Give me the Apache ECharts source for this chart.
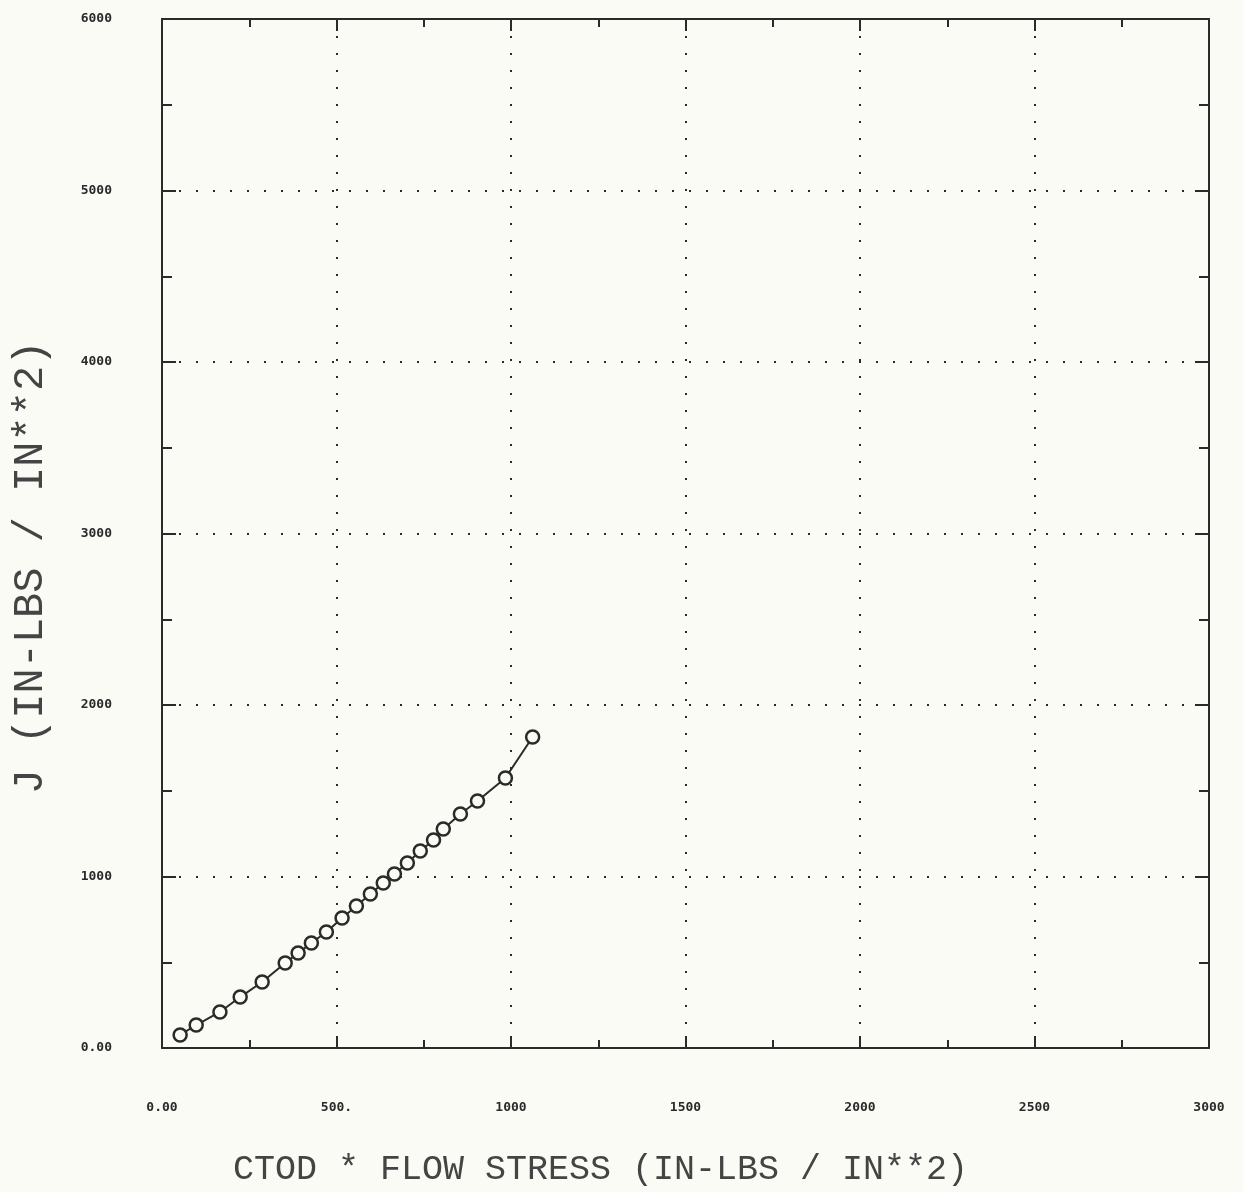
<!DOCTYPE html>
<html>
<head>
<meta charset="utf-8">
<script src="https://cdn.jsdelivr.net/npm/echarts@6/dist/echarts.min.js"></script>
<style>
html,body{margin:0;padding:0;background:#fbfbf6;}
#chart{width:1243px;height:1192px;}
</style>
</head>
<body>
<div id="chart"></div>
<script>
const xValues = [52, 98, 166, 224, 287, 353, 390, 428, 471, 516, 557, 597, 634, 666, 703, 740, 778, 806, 855, 904, 984, 1062];
const yValues = [76, 134, 210, 297, 385, 496, 554, 612, 676, 758, 828, 898, 962, 1015, 1079, 1149, 1213, 1277, 1364, 1440, 1574, 1813];
const xTickLabels = {0: '0.00', 500: '500.', 1000: '1000', 1500: '1500', 2000: '2000', 2500: '2500', 3000: '3000'};
const yTickLabels = {0: '0.00', 1000: '1000', 2000: '2000', 3000: '3000', 4000: '4000', 5000: '5000', 6000: '6000'};
const xTitle = 'CTOD * FLOW STRESS (IN-LBS / IN**2)';
const yTitle = 'J (IN-LBS / IN**2)';

const ink = '#2a2a2a';
const points = xValues.map((x, i) => [x, yValues[i]]);
const chart = echarts.init(document.getElementById('chart'));

const gridDots = {show: true, lineStyle: {color: ink, width: 2, type: [2, 15]}};
const tickFont = {fontFamily: 'DejaVu Sans Mono', fontSize: 13, fontWeight: 'bold', color: ink};
const line = {show: true, onZero: false, lineStyle: {color: ink, width: 2}};

chart.setOption({
  backgroundColor: '#fbfbf6',
  animation: false,
  grid: {left: 162, right: 34, top: 19, bottom: 144, containLabel: false, outerBoundsMode: 'none'},
  xAxis: [{
    type: 'value', min: 0, max: 3000, interval: 500, position: 'bottom',
    axisLine: line,
    axisTick: {show: true, inside: true, length: 12, lineStyle: {color: ink, width: 2}},
    minorTick: {show: true, splitNumber: 2, length: 8, lineStyle: {color: ink, width: 2}},
    splitLine: gridDots,
    axisLabel: Object.assign({margin: 53, formatter: v => xTickLabels[v]}, tickFont),
    name: xTitle, nameLocation: 'middle', nameGap: 104,
    nameTextStyle: {fontFamily: 'Liberation Mono', fontSize: 35, color: '#444', padding: [0, 170, 0, 0]}
  }, {
    type: 'value', min: 0, max: 3000, interval: 500, position: 'top',
    axisLine: line,
    axisTick: {show: true, inside: true, length: 12, lineStyle: {color: ink, width: 2}},
    minorTick: {show: true, splitNumber: 2, length: 8, lineStyle: {color: ink, width: 2}},
    splitLine: {show: false}, axisLabel: {show: false}
  }],
  yAxis: [{
    type: 'value', min: 0, max: 6000, interval: 1000, position: 'left',
    axisLine: line,
    axisTick: {show: true, inside: true, length: 14, lineStyle: {color: ink, width: 2}},
    minorTick: {show: true, splitNumber: 2, length: 10, lineStyle: {color: ink, width: 2}},
    splitLine: gridDots,
    axisLabel: Object.assign({margin: 50, formatter: v => yTickLabels[v]}, tickFont),
    name: yTitle, nameLocation: 'middle', nameGap: 110,
    nameTextStyle: {fontFamily: 'Liberation Mono', fontSize: 42, color: '#444', padding: [0, 68, 0, 0]}
  }, {
    type: 'value', min: 0, max: 6000, interval: 1000, position: 'right',
    axisLine: line,
    axisTick: {show: true, inside: true, length: 14, lineStyle: {color: ink, width: 2}},
    minorTick: {show: true, splitNumber: 2, length: 10, lineStyle: {color: ink, width: 2}},
    splitLine: {show: false}, axisLabel: {show: false}
  }],
  series: [{
    type: 'line', data: points, xAxisIndex: 0, yAxisIndex: 0,
    symbol: 'circle', symbolSize: 13,
    itemStyle: {color: '#fbfbf6', borderColor: ink, borderWidth: 2.5},
    lineStyle: {color: ink, width: 2}
  }]
});
</script>
</body>
</html>
